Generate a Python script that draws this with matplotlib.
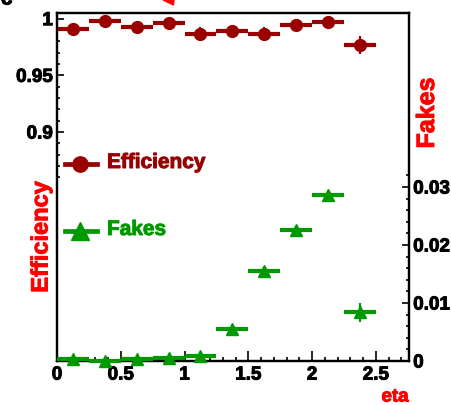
import numpy as np
import matplotlib
matplotlib.use('Agg')
import matplotlib.pyplot as plt
import matplotlib.patheffects as pe
from matplotlib.ticker import FixedLocator, FuncFormatter
from matplotlib.lines import Line2D
from matplotlib.patches import Polygon

# eta bins (width 0.25)
bin_lo = [0.0, 0.25, 0.5, 0.75, 1.0, 1.25, 1.5, 1.75, 2.0, 2.25]
bin_width = 0.25

efficiency = [0.9912, 0.9976, 0.9926, 0.9965, 0.9868, 0.9888, 0.9868, 0.9941, 0.9970, 0.9765]
efficiency_err = [0.002, 0.002, 0.002, 0.002, 0.006, 0.005, 0.006, 0.003, 0.002, 0.008]

fakes = [0.0003, 0.0000, 0.0003, 0.0006, 0.0008, 0.0055, 0.0156, 0.0226, 0.0286, 0.0084]
fakes_err = [0.0003, 0.0003, 0.0003, 0.0004, 0.0004, 0.0005, 0.0006, 0.0007, 0.0008, 0.0016]

dark_red = '#990000'
green = '#009900'
font = 'Liberation Sans'


def heavy(col, w=0.7):
    # thicken the bold font a little
    return [pe.withStroke(linewidth=w, foreground=col)]


x = np.array(bin_lo) + bin_width / 2

fig = plt.figure(figsize=(4.51, 4.05), dpi=100)
ax = fig.add_axes([57 / 451, 44 / 405, 352 / 451, 348 / 405])
ax2 = ax.twinx()

# efficiency on the left scale
ax.errorbar(x, efficiency, xerr=bin_width / 2, fmt='o', color=dark_red, ms=8.5,
            elinewidth=3, capsize=0, zorder=3)
ax.errorbar(x, efficiency, yerr=efficiency_err, fmt='none', ecolor=dark_red,
            elinewidth=1.6, capsize=0, zorder=3)

# fake rate on the right scale
ax2.errorbar(x, fakes, xerr=bin_width / 2, fmt='^', color=green, ms=9,
             elinewidth=3, capsize=0, zorder=3, clip_on=False)
ax2.errorbar(x, fakes, yerr=fakes_err, fmt='none', ecolor=green,
             elinewidth=1.6, capsize=0, zorder=3, clip_on=False)

ax.set_xlim(0, 2.76)
ax.set_ylim(0.698, 1.005)
ax2.set_ylim(0, 0.06)

fmt = FuncFormatter(lambda v, p: '%g' % round(v, 4))

ax.xaxis.set_major_locator(FixedLocator([0, 0.5, 1, 1.5, 2, 2.5]))
ax.xaxis.set_minor_locator(FixedLocator(np.arange(0, 2.71, 0.1)))
ax.xaxis.set_major_formatter(fmt)

ax.yaxis.set_major_locator(FixedLocator([0.9, 0.95, 1.0]))
ax.yaxis.set_minor_locator(FixedLocator(np.arange(0.86, 1.0, 0.01)))
ax.yaxis.set_major_formatter(fmt)

ax2.yaxis.set_major_locator(FixedLocator([0, 0.01, 0.02, 0.03]))
ax2.yaxis.set_minor_locator(FixedLocator(np.arange(0, 0.0321, 0.002)))
ax2.yaxis.set_major_formatter(fmt)

for a in (ax, ax2):
    a.tick_params(which='both', direction='in', width=1.2, labelsize=13.6,
                  pad=3, top=False)
    a.tick_params(which='major', length=5)
    a.tick_params(which='minor', length=2.5)
    for lbl in a.get_xticklabels() + a.get_yticklabels():
        lbl.set_fontfamily(font)
        lbl.set_fontweight('bold')
        lbl.set_path_effects(heavy('black'))
    for s in a.spines.values():
        s.set_linewidth(1.6)

ax.tick_params(axis='x', which='major', length=7, pad=4)
ax.tick_params(axis='x', which='minor', length=3)
ax.tick_params(axis='y', right=False)
ax2.tick_params(axis='y', left=False)

# axis titles
fig.text(41 / 451, 1 - 237 / 405, 'Efficiency', color='red', rotation=90,
         fontsize=17, fontweight='bold', family=font, ha='center', va='center',
         path_effects=heavy('red'))
fig.text(427 / 451, 1 - 113 / 405, 'Fakes', color='red', rotation=90,
         fontsize=18, fontweight='bold', family=font, ha='center', va='center',
         path_effects=heavy('red'))
fig.text(395 / 451, 1 - 397 / 405, 'eta', color='red', fontsize=13.5,
         fontweight='bold', family=font, ha='center', va='center',
         path_effects=heavy('red'))

# hand-placed legend
for ypix, marker, col, label, ms in [(164, 'o', dark_red, 'Efficiency', 11),
                                     (231, '^', green, 'Fakes', 13)]:
    yf = 1 - ypix / 405
    fig.add_artist(Line2D([65 / 451, 97 / 451], [yf, yf], color=col, lw=3.4,
                          marker=None, transform=fig.transFigure))
    fig.add_artist(Line2D([80 / 451], [yf], color=col, marker=marker, ms=ms,
                          transform=fig.transFigure))
    fig.text(107 / 451, yf + 1.5 / 405, label, color=col, fontsize=15,
             fontweight='bold', family=font, ha='left', va='center',
             path_effects=heavy(col))

# cut-off pieces along the top edge
fig.text(0.002, 1 - 4.5 / 405, 'c', fontsize=15, fontweight='bold',
         family=font, va='baseline', ha='left', path_effects=heavy('black'))
fig.add_artist(Polygon([[163 / 451, 1.0], [174 / 451, 1.0], [173.5 / 451, 1 - 5 / 405]],
                       closed=True, color='red', transform=fig.transFigure))

fig.savefig('out.png', dpi=100)
